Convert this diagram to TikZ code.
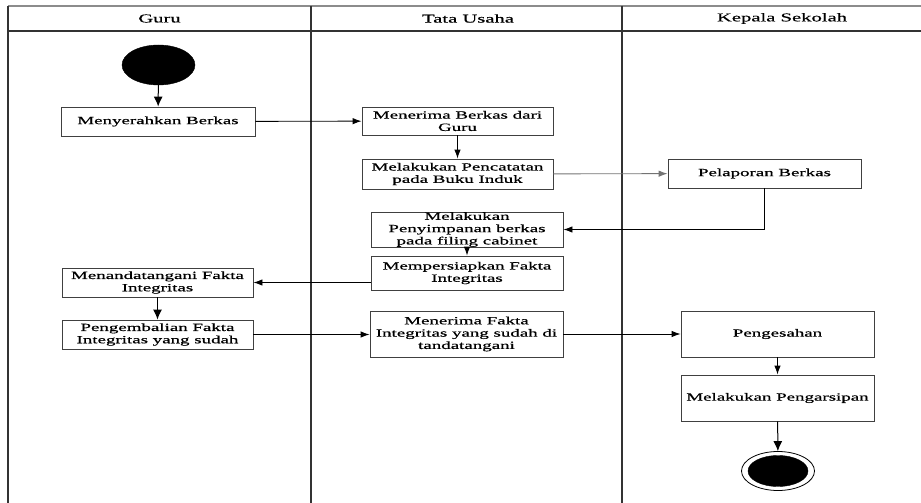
\documentclass[tikz,border=0pt]{standalone}
\usepackage{fontspec}
\setmainfont{Liberation Serif}
\newfontfamily\widefont[FakeStretch=1.72,FakeBold=0.6]{Liberation Serif}
\newfontfamily\headfont[FakeStretch=1.72,FakeBold=0.4]{Liberation Serif}
\usetikzlibrary{arrows.meta,shapes.geometric}
\begin{document}
\begin{tikzpicture}[x=1pt,y=-1pt,
 act/.style={draw=black!75, line width=0.9pt, fill=white, inner sep=0pt, align=center,
   font=\widefont\fontsize{11}{12.3}\selectfont},
 flow/.style={draw=black, line width=0.9pt, -{Latex[length=9pt,width=6.5pt]}},
 bigflow/.style={draw=black, line width=1pt, -{Latex[length=10pt,width=9pt]}},
 lane/.style={line width=1.4pt, draw=black!80},
 head/.style={font=\headfont\fontsize{12}{14}\selectfont, inner sep=0pt},
 startnode/.style={ellipse, fill=black, draw=black, minimum width=73pt, minimum height=40pt, inner sep=0pt},
 endouter/.style={ellipse, draw=black, line width=0.8pt, fill=white, minimum width=73pt, minimum height=39pt, inner sep=0pt},
 endinner/.style={ellipse, fill=black, draw=black, minimum width=60pt, minimum height=31pt, inner sep=0pt}]
\useasboundingbox (0,0) rectangle (921,503);
% frame
\draw[line width=1.2pt, draw=black!45] (8,6) -- (921,6);
\draw[lane] (8,31) -- (921,31);
\draw[lane] (8,6) -- (8,503);
\draw[lane] (311,6) -- (311,503);
\draw[lane] (622,6) -- (622,503);
\node[head] (h1) at (159.5,18.5) {Guru};
\node[head] (h2) at (468,18.5) {Tata Usaha};
\node[head] (h3) at (782,18.5) {Kepala Sekolah};
% nodes
\node[startnode] (start) at (158.5,65) {};
\node[act, minimum width=194pt, minimum height=29pt] (n1) at (158,121.5) {Menyerahkan Berkas};
\node[act, minimum width=191pt, minimum height=28pt] (n2) at (457.5,121) {Menerima Berkas dari\\Guru};
\node[act, minimum width=191pt, minimum height=30pt] (n3) at (457.5,174) {Melakukan Pencatatan\\pada Buku Induk};
\node[act, minimum width=193pt, minimum height=29pt] (n4) at (764.5,173.5) {Pelaporan Berkas};
\node[act, minimum width=192pt, minimum height=35pt] (n5) at (467,229.5) {Melakukan\\Penyimpanan berkas\\pada filing cabinet};
\node[act, minimum width=192pt, minimum height=34pt] (n6) at (467,273) {Mempersiapkan Fakta\\Integritas};
\node[act, minimum width=191pt, minimum height=29pt] (n7) at (157.5,282.5) {Menandatangani Fakta\\Integritas};
\node[act, minimum width=191pt, minimum height=29pt] (n8) at (157.5,334.5) {Pengembalian Fakta\\Integritas yang sudah};
\node[act, minimum width=193pt, minimum height=46pt] (n9) at (466.5,334) {Menerima Fakta\\Integritas yang sudah di\\tandatangani};
\node[act, minimum width=193pt, minimum height=46pt] (n10) at (777.5,334) {Pengesahan};
\node[act, minimum width=193pt, minimum height=46pt] (n11) at (777.5,398) {Melakukan Pengarsipan};
\node[endouter] (endo) at (778,471) {};
\node[endinner] (endi) at (778,471) {};
% connectors
\draw[bigflow] (start) -- (n1);
\draw[flow] (n1) -- (n2);
\draw[flow] (n2) -- (n3);
\draw[flow, draw=black!55] (n3) -- (n4);
\draw[flow] (n4.south) |- (n5.east);
\draw[flow] (n5) -- (n6);
\draw[flow] (n6.west |- n7.east) -- (n7.east);
\draw[bigflow] (n7) -- (n8);
\draw[flow] (n8.east) -- (n9.west |- n8.east);
\draw[flow] (n9) -- (n10);
\draw[flow] (n10) -- (n11);
\draw[bigflow] (n11) -- (endo);
\end{tikzpicture}
\end{document}
